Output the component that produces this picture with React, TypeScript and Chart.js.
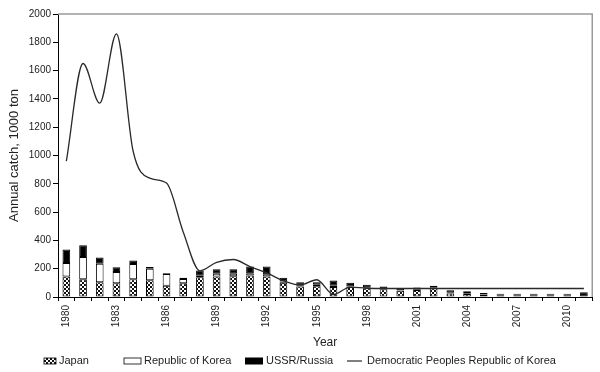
import React, { useEffect, useRef } from 'react';
import { Chart, registerables } from 'chart.js';

Chart.register(...registerables);

const years = [
  '1980', '1981', '1982', '1983', '1984', '1985', '1986', '1987', '1988', '1989',
  '1990', '1991', '1992', '1993', '1994', '1995', '1996', '1997', '1998', '1999',
  '2000', '2001', '2002', '2003', '2004', '2005', '2006', '2007', '2008', '2009',
  '2010', '2011',
];
const labeledYears = ['1980', '1983', '1986', '1989', '1992', '1995', '1998', '2001', '2004', '2007', '2010'];

const japan = [
  145, 125, 105, 97, 125, 118, 80, 98, 140, 145,
  147, 152, 145, 100, 74, 76, 70, 70, 62, 55,
  44, 49, 62, 25, 22, 17, 13, 13, 13, 13,
  13, 3,
];
const korea = [
  95, 158, 130, 80, 108, 82, 83, 30, 10, 19,
  17, 16, 16, 10, 5, 10, 10, 4, 3, 3,
  2, 2, 3, 5, 5, 4, 3, 3, 3, 3,
  3, 0,
];
const russia = [
  95, 82, 45, 33, 25, 12, 5, 8, 37, 32,
  32, 47, 54, 26, 26, 19, 37, 26, 21, 16,
  16, 16, 14, 17, 13, 8, 7, 7, 7, 7,
  7, 30,
];
const dprk = [
  960, 1650, 1370, 1860, 1030, 840, 805, 460, 185, 245,
  265, 215, 170, 115, 85, 122, 18, 70, 62, 60,
  60, 60, 60, 60, 60, 60, 60, 60, 60, 60,
  60, 60,
];
const seriesNames = ['Japan', 'Republic of Korea', 'USSR/Russia', 'Democratic Peoples Republic of Korea'];

const FONT = '"Liberation Sans", Arial, sans-serif';

export default function App() {
  const ref = useRef<HTMLCanvasElement | null>(null);

  useEffect(() => {
    const canvas = ref.current;
    if (!canvas) return;
    const ctx = canvas.getContext('2d')!;

    const tile = document.createElement('canvas');
    tile.width = 4;
    tile.height = 4;
    const tc = tile.getContext('2d')!;
    tc.fillStyle = '#ffffff';
    tc.fillRect(0, 0, 4, 4);
    tc.fillStyle = '#111111';
    tc.fillRect(0, 0, 2, 2);
    tc.fillRect(2, 2, 2, 2);
    const checker = ctx.createPattern(tile, 'repeat')!;

    const framePlugin = {
      id: 'frameAndLegend',
      afterDraw(chart: any) {
        const c = chart.ctx;
        const { top, right, bottom, left } = chart.chartArea;
        c.save();
        c.strokeStyle = '#9a9a9a';
        c.lineWidth = 1.5;
        c.beginPath();
        c.moveTo(left, top);
        c.lineTo(right, top);
        c.lineTo(right, bottom);
        c.stroke();

        // legend
        const ds = chart.data.datasets;
        const cy = 361;
        c.font = `11px ${FONT}`;
        c.fillStyle = '#222';
        c.textBaseline = 'middle';
        c.textAlign = 'left';
        // Japan
        c.fillStyle = ds[0].backgroundColor;
        c.fillRect(44, cy - 3, 12, 6);
        c.strokeStyle = '#000';
        c.lineWidth = 0.8;
        c.strokeRect(44, cy - 3, 12, 6);
        c.fillStyle = '#222';
        c.fillText(ds[0].label, 59, cy);
        // Korea
        c.fillStyle = ds[1].backgroundColor;
        c.fillRect(124, cy - 3, 17, 6);
        c.strokeStyle = '#000';
        c.lineWidth = 0.8;
        c.strokeRect(124, cy - 3, 17, 6);
        c.fillStyle = '#222';
        c.fillText(ds[1].label, 144, cy);
        // USSR
        c.fillStyle = ds[2].backgroundColor;
        c.fillRect(245, cy - 3.5, 18, 7);
        c.fillStyle = '#222';
        c.fillText(ds[2].label, 266, cy);
        // DPRK line
        c.strokeStyle = ds[3].borderColor;
        c.lineWidth = 1.2;
        c.beginPath();
        c.moveTo(347, cy);
        c.lineTo(362, cy);
        c.stroke();
        c.fillStyle = '#222';
        c.fillText(ds[3].label, 367, cy);
        c.restore();
      },
    };

    const chart = new Chart(ctx, {
      type: 'bar',
      data: {
        labels: years,
        datasets: [
          {
            type: 'bar',
            label: seriesNames[0],
            data: japan,
            backgroundColor: checker as any,
            borderColor: '#000',
            borderWidth: 1,
            borderSkipped: false,
            barPercentage: 0.46,
            categoryPercentage: 1,
            stack: 'catch',
            order: 1,
          },
          {
            type: 'bar',
            label: seriesNames[1],
            data: korea,
            backgroundColor: '#ffffff',
            borderColor: '#000',
            borderWidth: 1,
            borderSkipped: false,
            barPercentage: 0.46,
            categoryPercentage: 1,
            stack: 'catch',
            order: 1,
          },
          {
            type: 'bar',
            label: seriesNames[2],
            data: russia,
            backgroundColor: '#000000',
            borderColor: '#000',
            borderWidth: 1,
            borderSkipped: false,
            barPercentage: 0.46,
            categoryPercentage: 1,
            stack: 'catch',
            order: 1,
          },
          {
            type: 'line',
            label: seriesNames[3],
            data: dprk,
            borderColor: '#2a2a2a',
            borderWidth: 1.3,
            pointRadius: 0,
            cubicInterpolationMode: 'monotone',
            fill: false,
            stack: 'dprk',
            order: 0,
          } as any,
        ],
      },
      options: {
        animation: false,
        responsive: false,
        devicePixelRatio: 1,
        layout: { padding: { top: 14, right: 6, bottom: 22, left: 0 } },
        plugins: {
          legend: { display: false },
          tooltip: { enabled: false },
        },
        scales: {
          x: {
            stacked: true,
            afterFit: (s: any) => { s.height = 53; },
            grid: {
              display: true,
              offset: true,
              drawOnChartArea: false,
              drawTicks: true,
              tickLength: 4,
              color: '#000',
            },
            border: { display: true, color: '#000', width: 1 },
            ticks: {
              autoSkip: false,
              minRotation: 90,
              maxRotation: 90,
              padding: 4,
              color: '#222',
              font: { family: FONT, size: 10 },
              callback: (_v: any, i: number) => (labeledYears.includes(years[i]) ? years[i] : ''),
            },
            title: {
              display: true,
              text: 'Year',
              color: '#222',
              font: { family: FONT, size: 12 },
              padding: { top: 0, bottom: 0 },
            },
          },
          y: {
            stacked: true,
            min: 0,
            max: 2000,
            afterFit: (s: any) => { s.width = 58; },
            grid: {
              display: true,
              drawOnChartArea: false,
              drawTicks: true,
              tickLength: 5,
              color: '#000',
            },
            border: { display: true, color: '#000', width: 1 },
            ticks: {
              stepSize: 200,
              padding: 2,
              color: '#222',
              font: { family: FONT, size: 10 },
              callback: (v: any) => String(v),
            },
            title: {
              display: true,
              text: 'Annual catch, 1000 ton',
              color: '#222',
              font: { family: FONT, size: 13 },
              padding: { top: 7, bottom: 0 },
            },
          },
        },
      },
      plugins: [framePlugin],
    });

    return () => chart.destroy();
  }, []);

  return (
    <div style={{ position: 'fixed', left: 0, top: 0, width: 600, height: 372, background: '#fff' }}>
      <canvas ref={ref} width={600} height={372} style={{ width: 600, height: 372, display: 'block' }} />
    </div>
  );
}
